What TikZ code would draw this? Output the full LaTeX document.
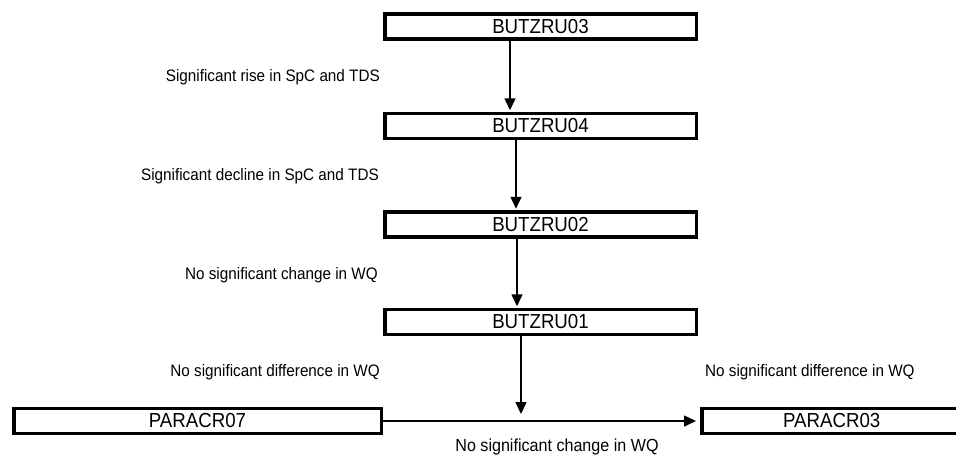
\documentclass[tikz,border=0pt]{standalone}
\usepackage{fontspec}
\setmainfont{Liberation Sans}
\newfontfamily\narrowfont[FakeStretch=0.92]{Liberation Sans}
\usetikzlibrary{arrows.meta}
\begin{document}
\begin{tikzpicture}[x=1pt,y=-1pt,
  sitebox/.style={draw=black,line width=3.5pt,fill=white,minimum height=25pt,inner sep=0pt,
    font=\narrowfont\fontsize{20.3}{22}\selectfont},
  lab/.style={inner sep=0pt,font=\narrowfont\fontsize{16.6}{18}\selectfont},
  arr/.style={line width=1.5pt,-{Triangle[length=12pt,width=11pt]}}]
\useasboundingbox (0,0) rectangle (956,456);
\begin{scope}
\clip (0,0) rectangle (956,456);
\node[sitebox,minimum width=311.5pt] (B03) at (540.5,26.5) {BUTZRU03};
\node[sitebox,minimum width=311.5pt] (B04) at (540.5,126) {BUTZRU04};
\node[sitebox,minimum width=311.5pt] (B02) at (540.5,224.5) {BUTZRU02};
\node[sitebox,minimum width=311.5pt] (B01) at (540.5,322) {BUTZRU01};
\node[sitebox,minimum width=367.5pt] (P07) at (197.5,421) {PARACR07};
\node[sitebox,minimum width=260pt] (P03) at (831.75,421) {PARACR03};
\end{scope}
\coordinate (x1) at (510,0);
\coordinate (x2) at (516,0);
\coordinate (x3) at (517,0);
\coordinate (x4) at (521,0);
\coordinate (tip) at (521,414);
\draw[arr,shorten >=1.5pt] (x1 |- B03.south) -- (x1 |- B04.north);
\draw[arr,shorten >=1.5pt] (x2 |- B04.south) -- (x2 |- B02.north);
\draw[arr,shorten >=1.5pt] (x3 |- B02.south) -- (x3 |- B01.north);
\draw[arr] (x4 |- B01.south) -- (tip);
\draw[arr,shorten >=4pt] (P07.east) -- (P03.west);
\node[lab,anchor=east] (L1) at (380,77) {Significant rise in SpC and TDS};
\node[lab,anchor=east] (L2) at (379,176) {Significant decline in SpC and TDS};
\node[lab,anchor=east] (L3) at (378,275) {No significant change in WQ};
\node[lab,anchor=east] (L4) at (380,372) {No significant difference in WQ};
\node[lab,anchor=west] (L5) at (705,372) {No significant difference in WQ};
\node[lab,font=\narrowfont\fontsize{17.5}{19}\selectfont] (L6) at (557,447) {No significant change in WQ};
\end{tikzpicture}
\end{document}
